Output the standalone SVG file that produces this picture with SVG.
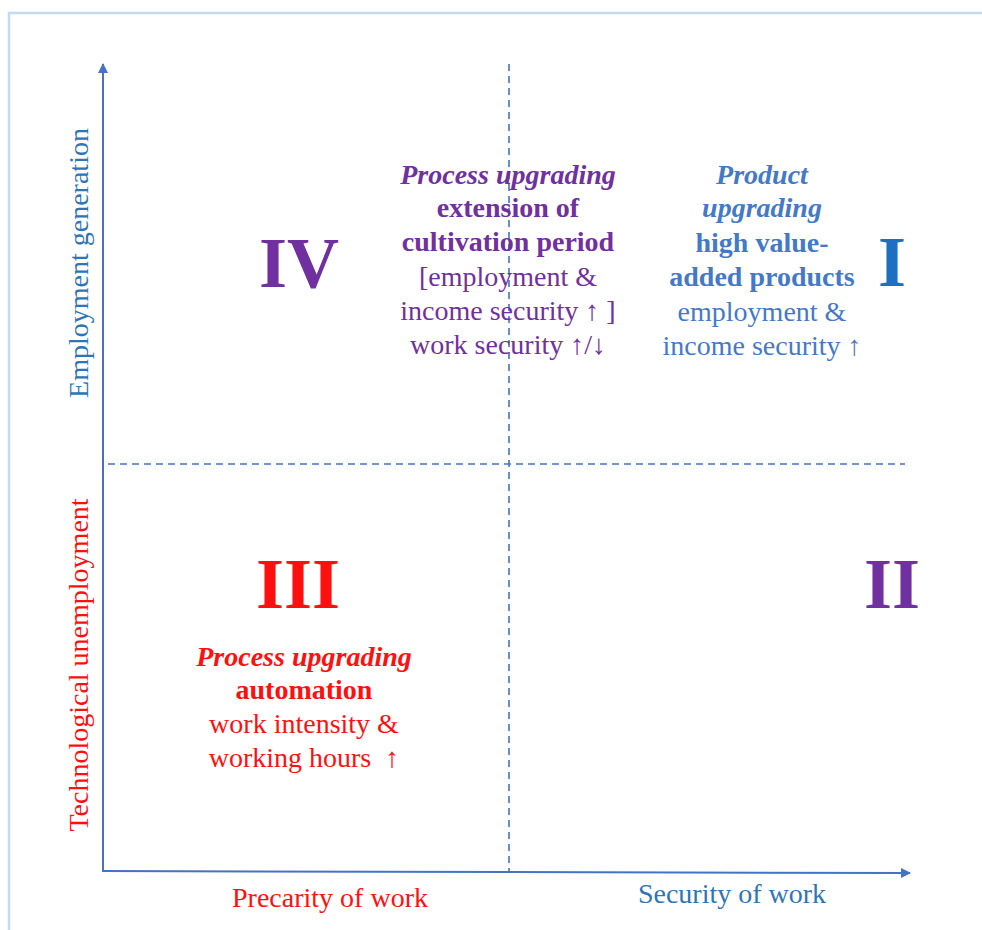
<svg xmlns="http://www.w3.org/2000/svg" width="982" height="930" viewBox="0 0 982 930">
<style>
text{font-family:"Liberation Serif","Times New Roman",serif;font-size:28px;text-anchor:middle}
.b{font-weight:bold}
.bi{font-weight:bold;font-style:italic}
.num{font-size:72px;font-weight:bold}
.pur{fill:#7030a0}
.red{fill:#ff1010}
.blu{fill:#4479c8}
.ax{fill:#2e75b6}
.axis{stroke:#4472c4;stroke-width:2;fill:none}
.dash{stroke:#4472c4;stroke-width:1.6;stroke-dasharray:7 5;fill:none}
</style>
<defs>
<marker id="arr" viewBox="0 0 10 10" refX="9" refY="5" markerWidth="6" markerHeight="5" orient="auto" markerUnits="strokeWidth">
<path d="M0,0 L10,5 L0,10 z" fill="#4472c4"/>
</marker>
</defs>
<rect width="982" height="930" fill="#ffffff"/>
<polyline points="9,930 9,13 982,13" fill="none" stroke="#c5daf0" stroke-width="2.5"/>
<g id="connectors">
<line class="axis" x1="103" y1="872" x2="103" y2="64" marker-end="url(#arr)"/>
<line class="axis" x1="102" y1="871" x2="910" y2="873" marker-end="url(#arr)"/>
<line class="dash" x1="509" y1="64" x2="509" y2="871"/>
<line class="dash" x1="108" y1="464" x2="905" y2="464"/>
</g>
<g id="quadrant-IV"><text class="num pur" x="299" y="287">IV</text></g>
<g id="quadrant-I"><text class="num" x="892" y="286" fill="#1c6fc1">I</text></g>
<g id="quadrant-III"><text class="num red" x="298" y="608">III</text></g>
<g id="quadrant-II"><text class="num pur" x="892" y="608">II</text></g>
<g id="process-extension">
<text class="bi pur" x="508" y="184">Process upgrading</text>
<text class="b pur" x="508" y="217">extension of</text>
<text class="b pur" x="508" y="251">cultivation period</text>
<text class="pur" x="508" y="286">[employment &amp;</text>
<text class="pur" x="508" y="320">income security ↑ ]</text>
<text class="pur" x="508" y="354">work security ↑/↓</text>
</g>
<g id="product-upgrading">
<text class="bi blu" x="762" y="184">Product</text>
<text class="bi blu" x="762" y="217">upgrading</text>
<text class="b blu" x="762" y="252">high value-</text>
<text class="b blu" x="762" y="286">added products</text>
<text class="blu" x="762" y="321">employment &amp;</text>
<text class="blu" x="762" y="355">income security ↑</text>
</g>
<g id="process-automation">
<text class="bi red" x="304" y="666">Process upgrading</text>
<text class="b red" x="304" y="699">automation</text>
<text class="red" x="304" y="733">work intensity &amp;</text>
<text class="red" x="304" y="767" xml:space="preserve">working hours  ↑</text>
</g>
<g id="label-precarity"><text class="red" x="330" y="907">Precarity of work</text></g>
<g id="label-security"><text class="ax" x="732" y="903">Security of work</text></g>
<g id="label-employment"><text class="ax" transform="translate(88,263) rotate(-90)">Employment generation</text></g>
<g id="label-unemployment"><text class="red" transform="translate(88,665) rotate(-90)">Technological unemployment</text></g>
</svg>
